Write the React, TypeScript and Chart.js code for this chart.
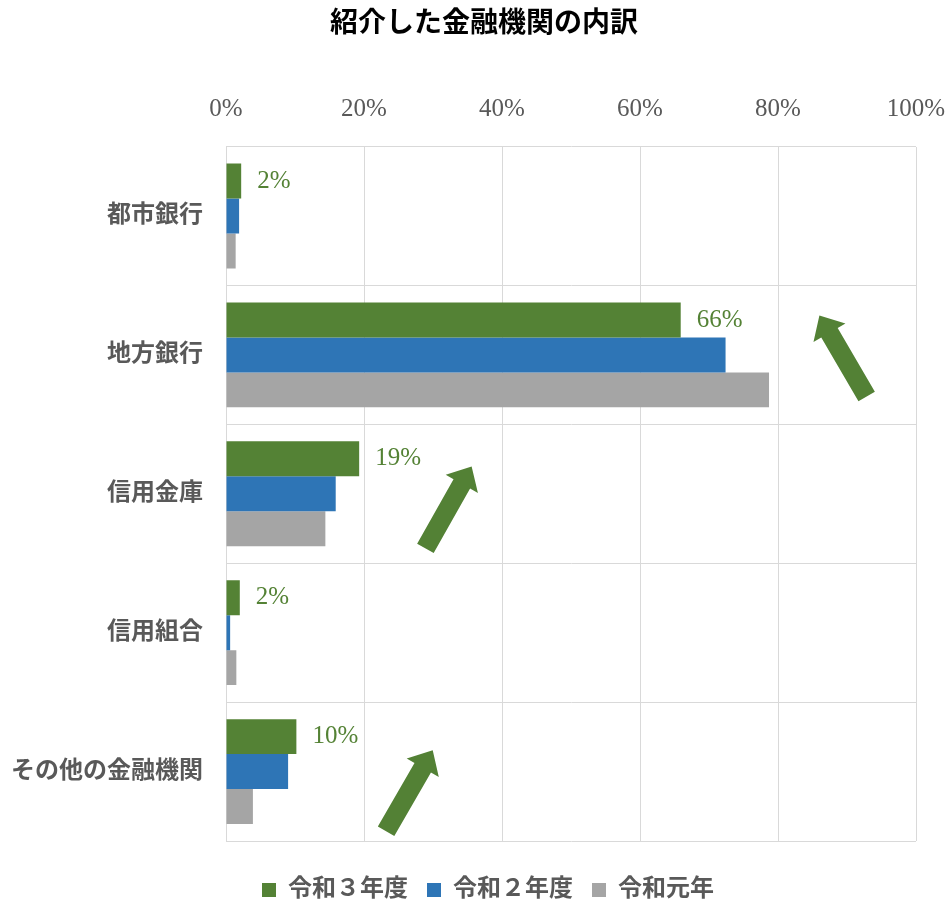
import React, { useEffect, useRef } from "react";
import { Chart, registerables } from "chart.js";
Chart.register(...registerables);

const TITLE = "紹介した金融機関の内訳";
const categories = ["都市銀行", "地方銀行", "信用金庫", "信用組合", "その他の金融機関"];
const seriesNames = ["令和３年度", "令和２年度", "令和元年"];
const seriesR3 = [2.2, 65.9, 19.3, 2.0, 10.2];
const seriesR2 = [1.9, 72.4, 15.9, 0.6, 9.0];
const seriesR1 = [1.4, 78.7, 14.4, 1.5, 3.9];
const seriesColors = ["#548235", "#2E75B6", "#A5A5A5"];
const xTickValues = [0, 20, 40, 60, 80, 100];

// arrow annotations in data units (x: percent, y: category index)
const arrowTailX = [92.85, 28.9, 23.2];
const arrowTailY = [1.3, 2.393, 4.43];
const arrowTipX = [86.0, 35.6, 29.96];
const arrowTipY = [0.716, 1.803, 3.847];

const SERIF = "'Liberation Serif', 'Noto Sans CJK JP', serif";

const labelPlugin = {
  id: "greenLabels",
  afterDatasetsDraw(chart: any) {
    const ctx = chart.ctx;
    const meta = chart.getDatasetMeta(0);
    ctx.save();
    ctx.font = `25px ${SERIF}`;
    ctx.fillStyle = "#548235";
    ctx.textAlign = "left";
    ctx.textBaseline = "middle";
    meta.data.forEach((el: any, i: number) => {
      ctx.fillText(Math.round(seriesR3[i]) + "%", el.x + 16, el.y);
    });
    ctx.restore();
  },
};

const arrowPlugin = {
  id: "arrows",
  afterDatasetsDraw(chart: any) {
    const ctx = chart.ctx;
    const xs = chart.scales.x;
    const ys = chart.scales.y;
    ctx.save();
    ctx.fillStyle = "#538135";
    for (let i = 0; i < arrowTailX.length; i++) {
      const tx = xs.getPixelForValue(arrowTailX[i]);
      const ty = ys.getPixelForValue(arrowTailY[i]);
      const px = xs.getPixelForValue(arrowTipX[i]);
      const py = ys.getPixelForValue(arrowTipY[i]);
      const dx = px - tx, dy = py - ty;
      const len = Math.hypot(dx, dy);
      const ux = dx / len, uy = dy / len;
      const nx = -uy, ny = ux;
      const w = 9.5, hw = 18.5, hl = 20;
      const bx = px - ux * hl, by = py - uy * hl;
      ctx.beginPath();
      ctx.moveTo(tx + nx * w, ty + ny * w);
      ctx.lineTo(bx + nx * w, by + ny * w);
      ctx.lineTo(bx + nx * hw, by + ny * hw);
      ctx.lineTo(px, py);
      ctx.lineTo(bx - nx * hw, by - ny * hw);
      ctx.lineTo(bx - nx * w, by - ny * w);
      ctx.lineTo(tx - nx * w, ty - ny * w);
      ctx.closePath();
      ctx.fill();
    }
    ctx.restore();
  },
};

const shiftPlugin = {
  id: "shiftBlocks",
  afterLayout(chart: any) {
    if (chart.titleBlock) {
      chart.titleBlock.left += 26;
      chart.titleBlock.right += 26;
    }
    if (chart.legend) {
      chart.legend.left += 30;
      chart.legend.right += 30;
    }
  },
};

export default function App() {
  const ref = useRef<HTMLCanvasElement | null>(null);
  useEffect(() => {
    document.body.style.margin = "0";
    const canvas = ref.current!;
    const chart = new Chart(canvas, {
      type: "bar",
      data: {
        labels: categories,
        datasets: [
          { label: seriesNames[0], data: seriesR3, backgroundColor: seriesColors[0] },
          { label: seriesNames[1], data: seriesR2, backgroundColor: seriesColors[1] },
          { label: seriesNames[2], data: seriesR1, backgroundColor: seriesColors[2] },
        ],
      },
      options: {
        indexAxis: "y",
        responsive: false,
        animation: false,
        devicePixelRatio: 1,
        datasets: { bar: { categoryPercentage: 0.755, barPercentage: 1 } },
        layout: { padding: { left: 0, right: 33, top: 0, bottom: -9 } },
        plugins: {
          title: {
            display: true,
            text: TITLE,
            color: "#000000",
            font: { family: SERIF, size: 28, weight: "bold" },
            padding: { top: 8, bottom: 31 },
          },
          legend: {
            position: "bottom",
            title: { display: true, text: "", font: { size: 10 }, padding: { top: 0, bottom: 6 } },
            labels: {
              boxWidth: 14,
              boxHeight: 14,
              padding: 19,
              color: "#595959",
              font: { family: SERIF, size: 24, weight: "bold" },
            },
          },
          tooltip: { enabled: false },
        },
        scales: {
          x: {
            position: "top",
            min: 0,
            max: 100,
            afterBuildTicks: (s: any) => {
              s.ticks = xTickValues.map((v) => ({ value: v }));
            },
            afterFit: (s: any) => {
              s.paddingRight = 0;
              s.paddingLeft = 0;
            },
            ticks: {
              callback: (v: any) => v + "%",
              color: "#595959",
              font: { family: SERIF, size: 25 },
              padding: 22,
            },
            grid: { color: "#D9D9D9", drawTicks: false },
            border: { display: false },
          },
          y: {
            afterFit: (s: any) => {
              s.width = 226;
            },
            ticks: {
              color: "#595959",
              font: { family: SERIF, size: 24, weight: "bold" },
              padding: 23,
            },
            grid: { color: "#D9D9D9", offset: true, drawTicks: false },
            border: { color: "#D9D9D9" },
          },
        },
      },
      plugins: [labelPlugin, arrowPlugin, shiftPlugin],
    } as any);
    return () => chart.destroy();
  }, []);
  return <canvas ref={ref} width={949} height={903} />;
}
